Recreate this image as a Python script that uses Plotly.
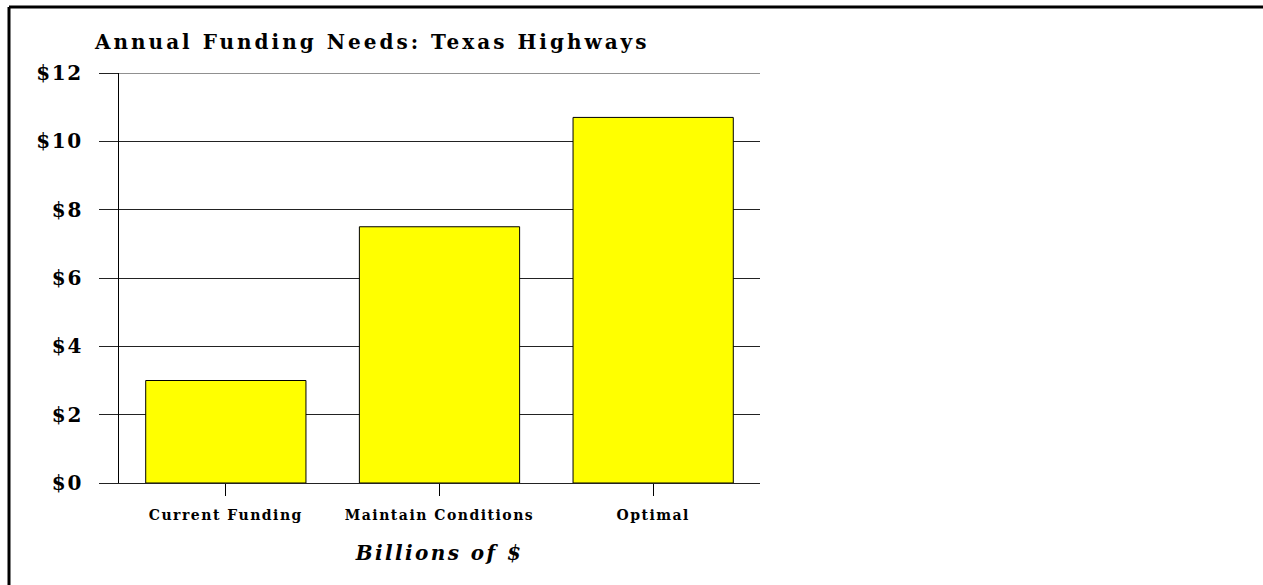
import plotly.graph_objects as go

categories = ["Current Funding", "Maintain Conditions", "Optimal"]
values = [3.0, 7.5, 10.7]
y_ticks = [0, 2, 4, 6, 8, 10, 12]
y_tick_labels = ["$0", "$2", "$4", "$6", "$8", "$10", "$12"]

W, H = 1263, 585
L, R, T, B = 119, 760, 73, 483

def px_x(p):
    return (p - L) / (R - L)

def px_y(p):
    return (B - p) / (B - T)

SERIF = "DejaVu Serif"

fig = go.Figure(go.Bar(
    x=categories, y=values,
    marker=dict(color="#FFFF00", line=dict(color="#000000", width=1)),
    width=0.75,
))

fig.update_layout(
    width=W, height=H,
    margin=dict(l=L, r=W - R, t=T, b=H - B, pad=0),
    paper_bgcolor="white", plot_bgcolor="white",
    showlegend=False,
    title=dict(text="<b>Annual Funding Needs: Texas Highways</b>",
               x=95 / W, xanchor="left", xref="container",
               y=1 - 42 / H, yanchor="middle",
               font=dict(family=SERIF, size=20, color="black")),
    font=dict(family=SERIF, color="black"),
    bargap=0.25,
)

fig.update_yaxes(
    range=[0, 12], tickvals=y_ticks, ticktext=y_tick_labels,
    showgrid=True, gridcolor="#222222", gridwidth=1,
    ticks="outside", ticklen=19, tickcolor="#222222", tickwidth=1,
    showline=True, linecolor="black", linewidth=1,
    zeroline=False,
    tickfont=dict(family=SERIF, size=20, color="black", weight="bold"),
    ticklabelstandoff=12,
)
fig.update_xaxes(
    range=[-0.5, 2.5],
    ticks="outside", ticklen=12, tickcolor="black", tickwidth=1,
    showline=True, linecolor="#222222", linewidth=1,
    tickfont=dict(family=SERIF, size=14, color="black", weight="bold"),
    ticklabelstandoff=7,
    title=dict(text="<b><i>Billions of $</i></b>", standoff=24,
               font=dict(family=SERIF, size=20, color="black")),
)

# top gridline at $12
fig.add_shape(type="line", xref="paper", yref="y",
              x0=0, x1=1, y0=12, y1=12,
              line=dict(color="#222222", width=1))

# outer frame (left and top borders)
fig.add_shape(type="line", xref="paper", yref="paper",
              x0=px_x(9), x1=px_x(1263), y0=px_y(7), y1=px_y(7),
              line=dict(color="black", width=3))
fig.add_shape(type="line", xref="paper", yref="paper",
              x0=px_x(9), x1=px_x(9), y0=px_y(7), y1=px_y(585),
              line=dict(color="black", width=3))

post = """
var gd = document.getElementById('{plot_id}');
function sp(sel, v){ gd.querySelectorAll(sel).forEach(function(e){ e.style.letterSpacing = v; }); }
sp('.gtitle', '3px');
sp('.ytick text', '1.7px');
sp('.xtick text', '1.5px');
sp('.xtitle', '2.4px');
"""

fig.write_html("out.html", post_script=post, config={"displayModeBar": False})
